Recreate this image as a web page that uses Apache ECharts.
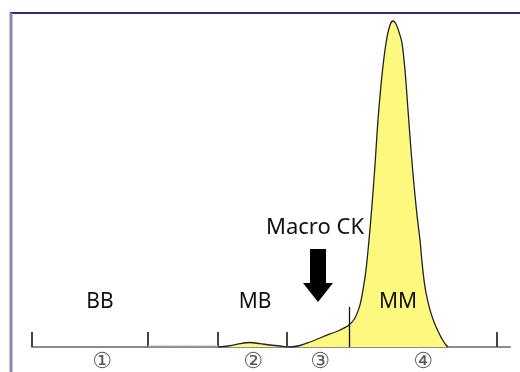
<!DOCTYPE html>
<html><head><meta charset="utf-8">
<script src="https://cdn.jsdelivr.net/npm/echarts@6/dist/echarts.min.js"></script>
<style>html,body{margin:0;padding:0;background:#fff}#c{width:520px;height:372px}</style>
</head><body><div id="c"></div>
<script>
// Electrophoretic mobility (arbitrary units) and density (% of peak scale)
const mobility = [186,196,208,218,228,238,248,255,258,268,278,288,298,308,317,323,328,331,334,337,340,343,346,350,354,358,361,364,367,370,373,376,379,382,385,388,390,392,394,398,402,406,410,414,416];
const density  = [0,0.3,1.0,1.35,1.0,0.6,0.3,0,0,0.45,1.5,2.7,3.9,5.1,6.6,8.7,12.6,17.1,23.1,32.0,42.5,54.5,68.0,81.4,91.0,96.4,97.6,96.7,94.3,91.0,82.9,71.0,59.0,48.5,39.5,32.0,25.4,20.1,16.2,11.1,7.5,4.8,2.4,0.6,0];
const fractionTicks = [0,116,186,255,465];
const fractionDivider = 317;
const fractionNames = ['①','②','③','④'];
const fractionNamePos = [70,221,288,391];
const bandNames = ['BB','MB','MM'];
const bandNamePos = [68,223,366];

const chart = echarts.init(document.getElementById('c'), null, {renderer:'canvas'});
const tickLines = fractionTicks.map(x => [{coord:[x,0]},{coord:[x,4.5]}]);
tickLines.push([{coord:[fractionDivider,0],lineStyle:{color:'#111',width:1.3}},{coord:[fractionDivider,12]}]);
tickLines.push([{coord:[116,0.5],lineStyle:{color:'#aaa',width:1.5,type:'dotted'}},{coord:[186,0.5]}]);

chart.setOption({
  animation:false,
  grid:{left:32,right:10,top:13,bottom:25},
  xAxis:{type:'value',min:0,max:478,axisLine:{show:true,lineStyle:{color:'#8c8c8c',width:2}},axisTick:{show:false},axisLabel:{show:false},splitLine:{show:false}},
  yAxis:{type:'value',min:0,max:100,show:false},
  series:[{
    type:'line',
    data:mobility.map((x,i)=>[x,density[i]]),
    smooth:0.3,
    symbol:'none',
    lineStyle:{color:'#222',width:1.3},
    areaStyle:{color:'#fcf97e',opacity:1},
    z:2,
    markLine:{
      silent:true,symbol:['none','none'],label:{show:false},
      lineStyle:{color:'#444',width:2,type:'solid'},
      data:tickLines
    }
  }]
});

const px = (x,y)=>chart.convertToPixel({gridIndex:0},[x,y]);
const g = [];
g.push({type:'line',z:100,shape:{x1:10,y1:13,x2:520,y2:13},style:{stroke:'#2c2c84',lineWidth:2}});
g.push({type:'line',z:100,shape:{x1:11,y1:13,x2:11,y2:372},style:{stroke:'#8a88b2',lineWidth:3}});
bandNames.forEach((t,i)=>{
  const p = px(bandNamePos[i],13.5);
  g.push({type:'text',z:100,x:p[0],y:p[1],style:{text:t,font:'21px "Noto Sans"',fill:'#111',align:'center',verticalAlign:'middle'}});
});
fractionNames.forEach((t,i)=>{
  const p = px(fractionNamePos[i],-4.5);
  g.push({type:'text',z:100,x:p[0],y:p[1],style:{text:t,font:'22px "DejaVu Sans"',fill:'#555',align:'center',verticalAlign:'middle'}});
});
const lp = px(283,35.6);
g.push({type:'text',z:100,x:lp[0],y:lp[1],style:{text:'Macro CK',font:'22px "Noto Sans"',fill:'#111',align:'center',verticalAlign:'middle'}});
const a = px(286,21.4);
const cx=a[0], cy=a[1];
g.push({type:'polygon',z:100,shape:{points:[[cx-8,cy-26.5],[cx+8,cy-26.5],[cx+8,cy+7.5],[cx+15,cy+7.5],[cx,cy+26.5],[cx-15,cy+7.5],[cx-8,cy+7.5]]},style:{fill:'#000'}});
chart.setOption({graphic:g});
</script></body></html>
